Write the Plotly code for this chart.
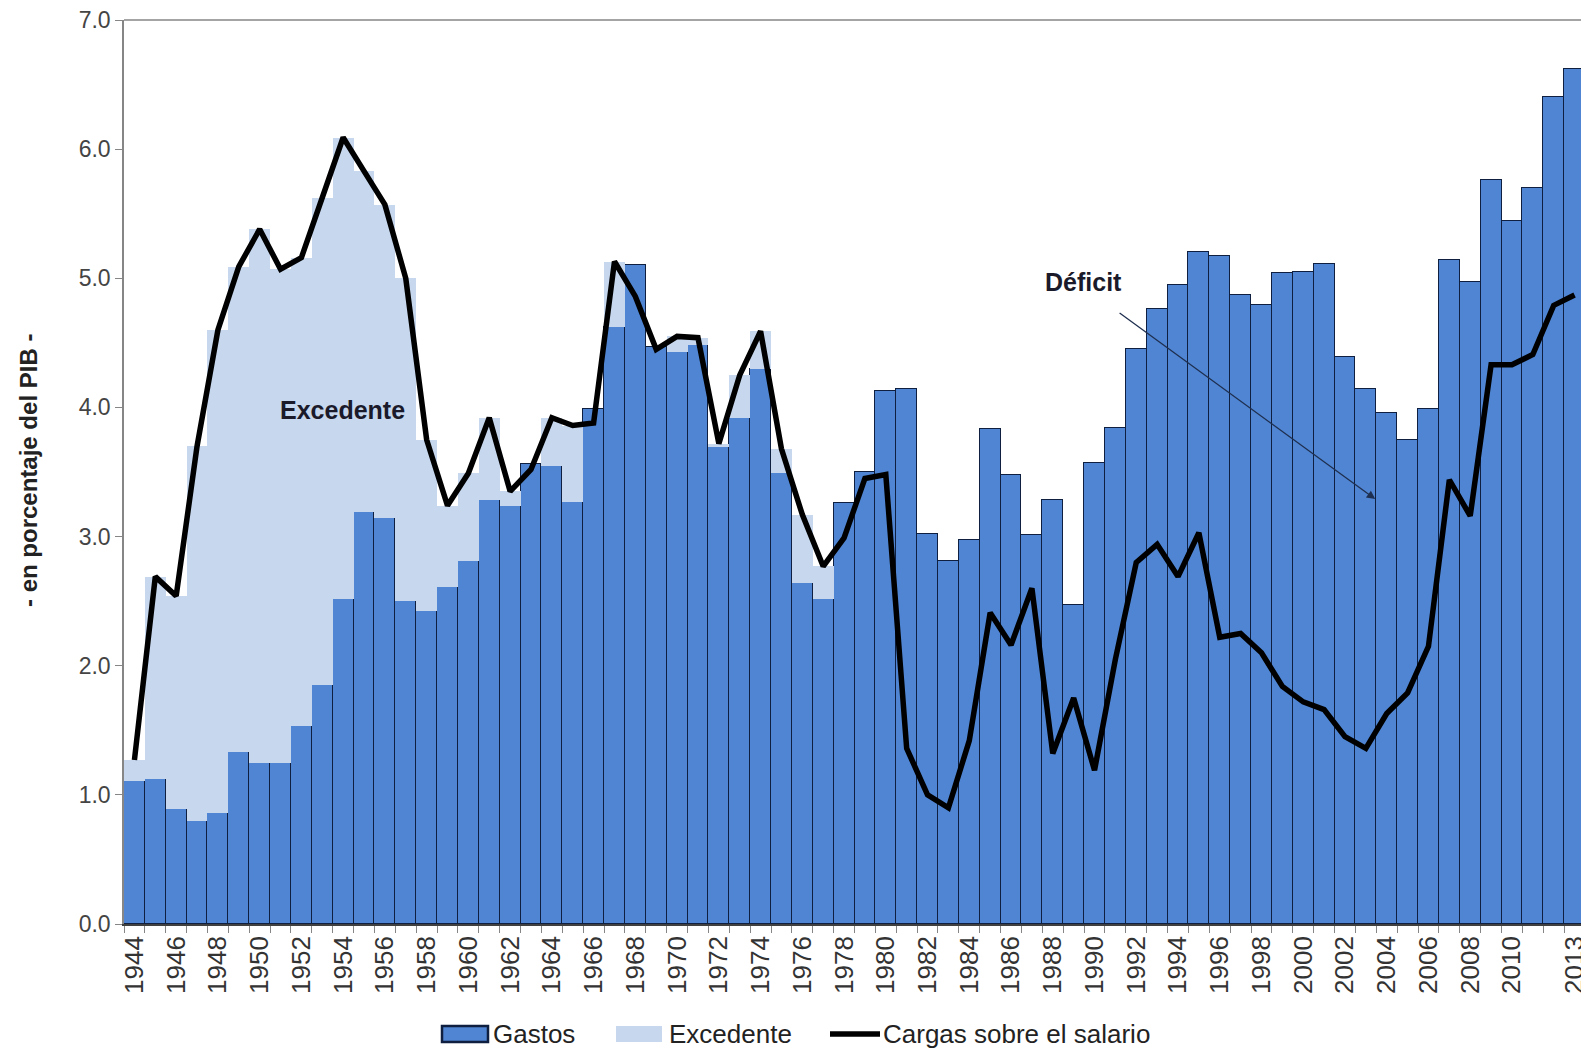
import plotly.graph_objects as go

years = list(range(1944, 2014))

gastos = [1.11, 1.12, 0.89, 0.80, 0.86, 1.33, 1.25, 1.25, 1.53, 1.85,
          2.52, 3.19, 3.14, 2.50, 2.42, 2.61, 2.81, 3.28, 3.24, 3.56,
          3.55, 3.27, 3.99, 4.62, 5.10, 4.47, 4.43, 4.48, 3.69, 3.92,
          4.30, 3.49, 2.64, 2.52, 3.26, 3.50, 4.13, 4.14, 3.02, 2.81,
          2.97, 3.83, 3.48, 3.01, 3.28, 2.47, 3.57, 3.84, 4.45, 4.76,
          4.95, 5.20, 5.17, 4.87, 4.79, 5.04, 5.05, 5.11, 4.39, 4.14,
          3.96, 3.75, 3.99, 5.14, 4.97, 5.76, 5.44, 5.70, 6.40, 6.62]

cargas = [1.27, 2.69, 2.54, 3.70, 4.60, 5.09, 5.38, 5.07, 5.16, 5.62,
          6.09, 5.83, 5.57, 5.00, 3.75, 3.24, 3.49, 3.92, 3.35, 3.52,
          3.92, 3.86, 3.88, 5.13, 4.86, 4.45, 4.55, 4.54, 3.72, 4.25,
          4.59, 3.68, 3.17, 2.77, 2.99, 3.45, 3.48, 1.36, 1.00, 0.90,
          1.42, 2.41, 2.16, 2.60, 1.32, 1.75, 1.19, 2.05, 2.80, 2.94,
          2.69, 3.03, 2.22, 2.25, 2.10, 1.84, 1.72, 1.66, 1.45, 1.36,
          1.63, 1.79, 2.15, 3.44, 3.16, 4.33, 4.33, 4.41, 4.79, 4.87]

excedente = [round(max(c - g, 0), 2) for c, g in zip(cargas, gastos)]

labeled_years = list(range(1944, 2011, 2)) + [2013]
cats = [str(y) for y in years]
tick_text = [str(y) if y in labeled_years else "" for y in years]

series_names = ["Gastos", "Excedente", "Cargas sobre el salario"]
y_title = "- en porcentaje del PIB -"

FONT = "Liberation Sans, Arial, sans-serif"
C_GASTOS = "#4F85D2"
C_EDGE = "#0F1F3F"
C_EXC = "#C6D7EE"

# the page body adds an 8px offset; size the figure so it fits the window
OFF = 8
W, H = 1589 - OFF, 1062 - OFF
ML, MR, MT, MB = 116, 4, 12, 138
PW, PH = W - ML - MR, H - MT - MB


def px(x):
    """screen x (px) -> paper coordinate"""
    return (x - OFF - ML) / PW


def py(y):
    """screen y (px) -> paper coordinate"""
    return (H - MB - (y - OFF)) / PH


fig = go.Figure()
fig.add_trace(go.Bar(
    x=cats, y=gastos, name=series_names[0], showlegend=False,
    marker=dict(color=C_GASTOS, line=dict(color=C_EDGE, width=1.5)),
))
fig.add_trace(go.Bar(
    x=cats, y=excedente, name=series_names[1], showlegend=False,
    marker=dict(color=C_EXC, line=dict(width=0)),
))
fig.add_trace(go.Scatter(
    x=cats, y=cargas, name=series_names[2], mode="lines", showlegend=False,
    line=dict(color="#000000", width=5.5),
))

# in-plot labels
fig.add_annotation(x=9.95, y=3.98, xref="x", yref="y", text="<b>Excedente</b>",
                   showarrow=False, font=dict(family=FONT, size=25, color="#1a1a2a"))
fig.add_annotation(x=45.45, y=4.97, xref="x", yref="y", text="<b>Déficit</b>",
                   showarrow=False, font=dict(family=FONT, size=25, color="#1a1a2a"))
fig.add_annotation(x=59.45, y=3.29, ax=47.13, ay=4.74, xref="x", yref="y",
                   axref="x", ayref="y", text="", showarrow=True,
                   arrowhead=2, arrowsize=1.3, arrowwidth=1.3, arrowcolor="#1F2F4F")

# y-axis title
fig.add_annotation(x=px(28), y=py(471), xref="paper", yref="paper",
                   xanchor="center", yanchor="middle",
                   text="<b>" + y_title + "</b>", textangle=-90, showarrow=False,
                   font=dict(family=FONT, size=24, color="#222222"))

# custom legend
LY = 1034
fig.add_shape(type="rect", xref="paper", yref="paper",
              x0=px(442), x1=px(488), y0=py(LY - 8), y1=py(LY + 8),
              fillcolor=C_GASTOS, line=dict(color=C_EDGE, width=2.5))
fig.add_shape(type="rect", xref="paper", yref="paper",
              x0=px(616), x1=px(662), y0=py(LY - 8), y1=py(LY + 8),
              fillcolor=C_EXC, line=dict(width=0))
fig.add_shape(type="line", xref="paper", yref="paper",
              x0=px(830), x1=px(880), y0=py(LY), y1=py(LY),
              line=dict(color="#000000", width=5.5))
for xl, name in [(491, series_names[0]), (667, series_names[1]), (881, series_names[2])]:
    fig.add_annotation(x=px(xl), y=py(LY), xref="paper", yref="paper", text=name,
                       xanchor="left", yanchor="middle", showarrow=False,
                       font=dict(family=FONT, size=26, color="#222222"))

# top frame line
fig.add_shape(type="line", xref="paper", yref="paper", x0=0, x1=1, y0=1, y1=1,
              line=dict(color="#868686", width=1.5))

fig.update_layout(
    width=W, height=H,
    barmode="stack", bargap=0,
    paper_bgcolor="white", plot_bgcolor="white",
    margin=dict(l=ML, r=MR, t=MT, b=MB, autoexpand=False),
    showlegend=False,
    xaxis=dict(type="category", tickmode="array", tickvals=cats, ticktext=tick_text,
               tickangle=-90, tickson="boundaries", ticks="outside", ticklen=7,
               tickcolor="#868686", showline=True, linecolor="#404040", linewidth=1.5,
               showgrid=False, automargin=False, ticklabeloverflow="allow",
               tickfont=dict(family=FONT, size=26, color="#333333")),
    yaxis=dict(range=[0, 7], dtick=1, tickformat=".1f", ticks="outside", ticklen=7,
               tickcolor="#868686", showline=True, linecolor="#868686", linewidth=1.5,
               mirror=True, showgrid=False, zeroline=False, automargin=False,
               ticklabeloverflow="allow",
               tickfont=dict(family=FONT, size=23, color="#444444")),
)

fig.write_html("out.html")
